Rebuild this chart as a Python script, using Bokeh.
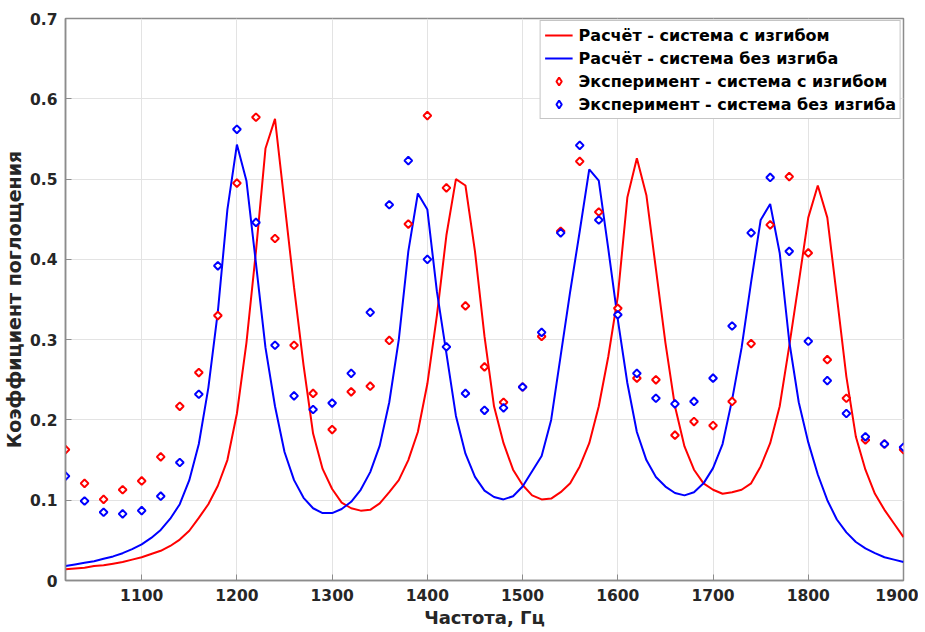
import math
from bokeh.plotting import figure
from bokeh.models import FixedTicker, Legend, LegendItem, Range1d, ColumnDataSource
from bokeh.embed import file_html
from bokeh.resources import INLINE

# ---- data ----
freq_calc = list(range(1020, 1901, 10))
calc_bend = [0.014, 0.015, 0.016, 0.018, 0.019, 0.021, 0.023, 0.026, 0.029, 0.033,
             0.037, 0.043, 0.051, 0.062, 0.078, 0.095, 0.118, 0.150, 0.208, 0.296,
             0.410, 0.538, 0.575, 0.470, 0.365, 0.268, 0.183, 0.139, 0.114, 0.097,
             0.090, 0.087, 0.088, 0.096, 0.110, 0.125, 0.150, 0.185, 0.245, 0.330,
             0.430, 0.500, 0.492, 0.410, 0.304, 0.217, 0.171, 0.138, 0.119, 0.106,
             0.101, 0.102, 0.110, 0.121, 0.142, 0.171, 0.217, 0.279, 0.354, 0.477,
             0.526, 0.480, 0.388, 0.296, 0.217, 0.167, 0.138, 0.121, 0.113, 0.108,
             0.110, 0.113, 0.121, 0.142, 0.171, 0.217, 0.292, 0.371, 0.452, 0.492,
             0.452, 0.354, 0.254, 0.179, 0.138, 0.108, 0.088, 0.071, 0.054]
calc_nobend = [0.018, 0.020, 0.022, 0.024, 0.027, 0.030, 0.034, 0.039, 0.045, 0.053,
               0.063, 0.077, 0.095, 0.125, 0.170, 0.240, 0.335, 0.462, 0.543, 0.498,
               0.395, 0.290, 0.217, 0.160, 0.125, 0.103, 0.090, 0.084, 0.084, 0.089,
               0.098, 0.113, 0.135, 0.168, 0.222, 0.300, 0.410, 0.482, 0.462, 0.360,
               0.283, 0.205, 0.158, 0.129, 0.112, 0.104, 0.101, 0.105, 0.117, 0.136,
               0.155, 0.200, 0.280, 0.360, 0.435, 0.512, 0.498, 0.413, 0.325, 0.246,
               0.185, 0.150, 0.129, 0.117, 0.109, 0.106, 0.110, 0.121, 0.140, 0.170,
               0.225, 0.290, 0.372, 0.449, 0.469, 0.408, 0.298, 0.222, 0.172, 0.132,
               0.100, 0.076, 0.060, 0.048, 0.040, 0.034, 0.029, 0.026, 0.023]

freq_exp = list(range(1020, 1901, 20))
exp_bend = [0.163, 0.121, 0.101, 0.113, 0.124, 0.154, 0.217, 0.259, 0.330, 0.495,
            0.577, 0.426, 0.293, 0.233, 0.188, 0.235, 0.242, 0.299, 0.444, 0.579,
            0.489, 0.342, 0.266, 0.222, 0.241, 0.304, 0.435, 0.522, 0.459, 0.339,
            0.252, 0.250, 0.181, 0.198, 0.193, 0.223, 0.295, 0.443, 0.503, 0.408,
            0.275, 0.227, 0.175, 0.170, 0.163]
exp_nobend = [0.130, 0.099, 0.085, 0.083, 0.087, 0.105, 0.147, 0.232, 0.392, 0.562,
              0.446, 0.293, 0.230, 0.213, 0.221, 0.258, 0.334, 0.468, 0.523, 0.400,
              0.291, 0.233, 0.212, 0.215, 0.241, 0.309, 0.433, 0.542, 0.449, 0.331,
              0.258, 0.227, 0.220, 0.223, 0.252, 0.317, 0.433, 0.502, 0.410, 0.298,
              0.249, 0.208, 0.179, 0.170, 0.166]

x_ticks = [1100, 1200, 1300, 1400, 1500, 1600, 1700, 1800, 1900]
y_ticks = [0, 0.1, 0.2, 0.3, 0.4, 0.5, 0.6, 0.7]
y_tick_labels = ["0", "0.1", "0.2", "0.3", "0.4", "0.5", "0.6", "0.7"]

labels = ["Расчёт - система с изгибом", "Расчёт - система без изгиба",
          "Эксперимент - система с изгибом", "Эксперимент - система без изгиба"]

FONT = "DejaVu Sans"
TXT = "#262626"
AX = "#8c8c8c"

p = figure(width=918, height=630, output_backend="svg", toolbar_location=None,
           x_range=Range1d(1020, 1900), y_range=Range1d(0, 0.7),
           min_border_left=64, min_border_right=15, min_border_top=18,
           min_border_bottom=50)
p.background_fill_color = "white"
p.border_fill_color = "white"
p.outline_line_color = AX
p.outline_line_width = 1.5

for ax in (p.xaxis[0], p.yaxis[0]):
    ax.major_label_text_font = FONT
    ax.major_label_text_font_style = "bold"
    ax.major_label_text_font_size = "15.5px"
    ax.major_label_text_color = TXT
    ax.axis_label_text_font = FONT
    ax.axis_label_text_font_style = "bold"
    ax.axis_label_text_color = TXT
    ax.axis_line_color = AX
    ax.axis_line_width = 1.5
    ax.major_tick_line_color = AX
    ax.major_tick_in = 6
    ax.major_tick_out = 0
    ax.minor_tick_line_color = None

p.xaxis[0].axis_label_text_font_size = "18px"
p.yaxis[0].axis_label_text_font_size = "19px"
p.xaxis[0].ticker = FixedTicker(ticks=x_ticks)
p.yaxis[0].ticker = FixedTicker(ticks=y_ticks)
p.yaxis[0].major_label_overrides = {t: l for t, l in zip(y_ticks, y_tick_labels)}
p.xaxis[0].axis_label = "Частота, Гц"
p.yaxis[0].axis_label = "Коэффициент поглощения"
p.xaxis[0].major_label_standoff = 8
p.xaxis[0].axis_label_standoff = 3
p.yaxis[0].major_label_standoff = 8
p.yaxis[0].axis_label_standoff = 2

p.xgrid.ticker = FixedTicker(ticks=x_ticks)
p.ygrid.ticker = FixedTicker(ticks=y_ticks)
p.grid.grid_line_color = "#e3e3e3"
p.grid.grid_line_width = 1

src_b = ColumnDataSource(dict(x=freq_exp, y=exp_bend))
src_n = ColumnDataSource(dict(x=freq_exp, y=exp_nobend))

r1 = p.line(freq_calc, calc_bend, line_color="#ff0000", line_width=2)
r2 = p.line(freq_calc, calc_nobend, line_color="#0000ff", line_width=2)
# legend swatches: diamond glyphs drawn tiny beneath the real markers
r3 = p.scatter("x", "y", source=src_b, marker="diamond", size=1, line_width=2,
               line_color="#ff0000", fill_color="white")
r4 = p.scatter("x", "y", source=src_n, marker="diamond", size=1, line_width=2,
               line_color="#0000ff", fill_color="white")
p.scatter("x", "y", source=src_b, marker="square", angle=math.pi / 4, size=5.5,
          line_width=2, line_color="#ff0000", fill_color="white")
p.scatter("x", "y", source=src_n, marker="square", angle=math.pi / 4, size=5.5,
          line_width=2, line_color="#0000ff", fill_color="white")

legend = Legend(items=[LegendItem(label=labels[0], renderers=[r1]),
                       LegendItem(label=labels[1], renderers=[r2]),
                       LegendItem(label=labels[2], renderers=[r3]),
                       LegendItem(label=labels[3], renderers=[r4])],
                location="top_right")
legend.margin = 2
legend.padding = 4
legend.spacing = 3
legend.glyph_width = 28
legend.glyph_height = 20
legend.label_standoff = 6
legend.label_height = 20
legend.label_text_font = FONT
legend.label_text_font_style = "bold"
legend.label_text_font_size = "16px"
legend.label_text_color = "#000000"
legend.border_line_color = AX
legend.border_line_width = 1
legend.background_fill_color = "white"
legend.background_fill_alpha = 1
p.add_layout(legend)

open("out.html", "w").write(file_html(p, INLINE))
